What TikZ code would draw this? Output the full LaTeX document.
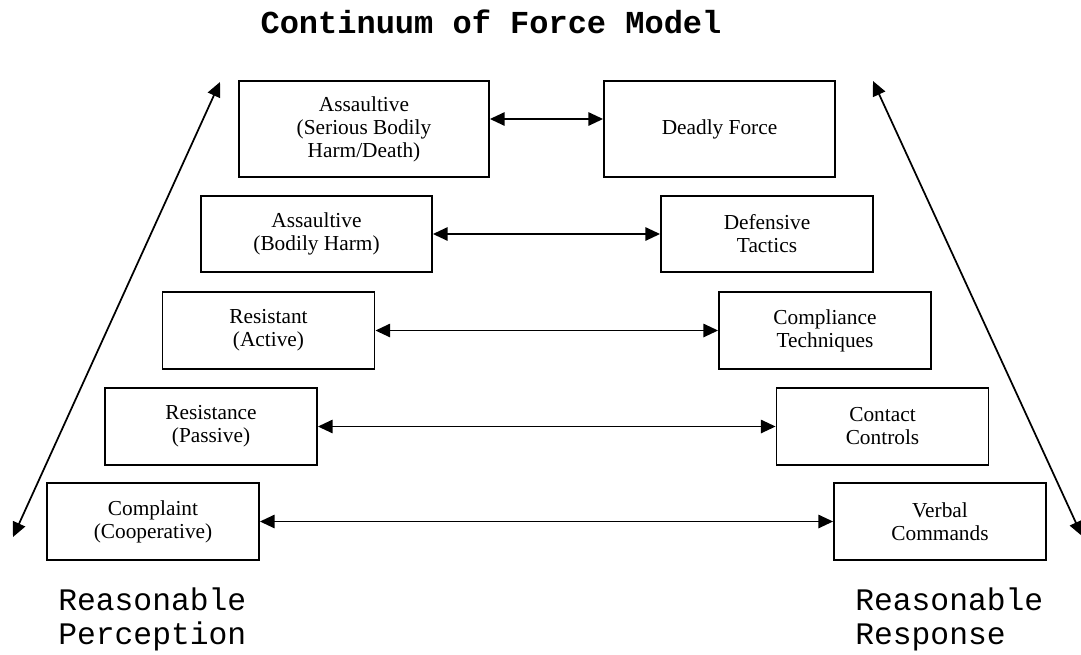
\documentclass[tikz,border=0pt]{standalone}
\usepackage{fontspec}
\setmainfont{Liberation Serif}
\newfontfamily\courfont{Liberation Mono}
\usetikzlibrary{arrows.meta}
\usetikzlibrary{positioning}

\begin{document}
\begin{tikzpicture}[x=0.75pt,y=-0.75pt,
  level/.style={draw,line width=1.4pt,inner sep=0pt,align=center,
    font=\fontsize{16}{17.25}\selectfont,minimum width=159pt,minimum height=57.5pt},
  both/.style={{Triangle[length=11pt,width=10pt]}-{Triangle[length=11pt,width=10pt]},line width=1.3pt},
  big/.style={font=\courfont\fontsize{23.5}{25}\selectfont,inner sep=0pt,align=left}]
  \useasboundingbox (0,0) rectangle (1081,654);

  % title
  \node[big,font=\courfont\bfseries\fontsize{24}{26.25}\selectfont,anchor=base] (title) at (491,33) {Continuum of Force Model};

  % perception side
  \node[level,minimum width=187.5pt,minimum height=72pt] (SBH) at (364,129) {Assaultive\\(Serious Bodily\\Harm/Death)};
  \node[level,minimum width=173.25pt] (BH) at (316.5,234) {Assaultive\\(Bodily Harm)};
  \node[level] (RA) at (268.5,330.5) {Resistant\\(Active)};
  \node[level] (RP) at (211,426.5) {Resistance\\(Passive)};
  \node[level] (CC) at (153,521.5) {Complaint\\(Cooperative)};

  % response side
  \node[level,minimum width=173.25pt,minimum height=72pt] (DF) at (719.5,129) {Deadly Force};
  \node[level] (DT) at (767,234) {Defensive\\Tactics};
  \node[level] (CT) at (825,330.5) {Compliance\\Techniques};
  \node[level] (CO) at (882.5,426.5) {Contact\\Controls};
  \node[level] (VC) at (940,521.5) {Verbal\\Commands};

  \path[both] ([yshift=7.5pt]SBH.east) edge ([yshift=7.5pt]DF.west);
  \path[both] (BH) edge (DT);
  \path[both] (RA) edge (CT);
  \path[both] (RP) edge (CO);
  \path[both] (CC) edge (VC);

  % side arrows
  \coordinate (PT) at (220,82);
  \coordinate (PB) at (13,537);
  \coordinate (RT) at (873,81);
  \coordinate (RB) at (1082,536);
  \draw[both] (PB) -- (PT);
  \draw[both] (RB) -- (RT);

  \node[big,anchor=base west] (perc) at (58,644) {Reasonable\\Perception};
  \node[big,anchor=base west] (resp) at (855,644) {Reasonable\\Response};
\end{tikzpicture}
\end{document}
